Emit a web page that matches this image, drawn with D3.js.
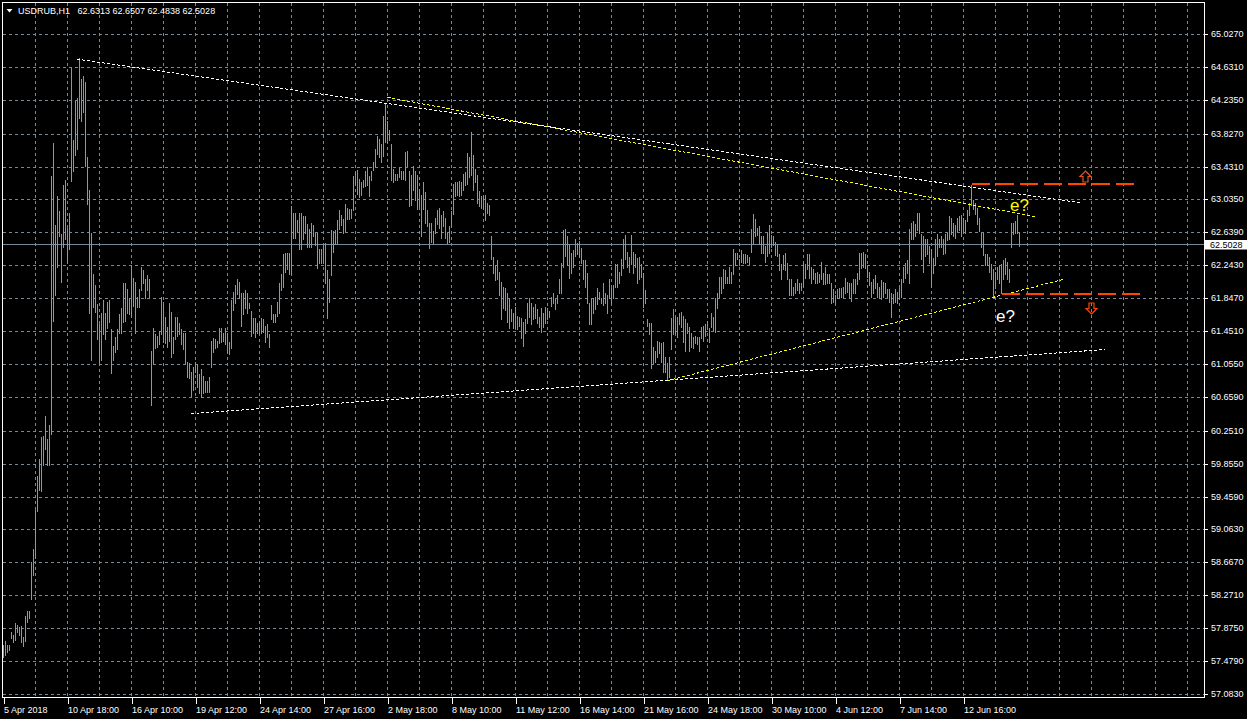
<!DOCTYPE html>
<html><head><meta charset="utf-8">
<script src="https://cdn.jsdelivr.net/npm/d3@7"></script>
<style>html,body{margin:0;padding:0;background:#000;overflow:hidden}svg{display:block}</style>
</head><body>
<svg id="c" width="1247" height="719"></svg>
<script>
const symbolTitle = "USDRUB,H1";
const lastOHLC = ["62.6313", "62.6507", "62.4838", "62.5028"];
const currentPrice = 62.5028;

const highs = [
57.68,57.73,57.68,57.68,57.83,57.80,57.94,57.92,57.90,57.91,
57.78,58.03,58.09,58.09,58.68,58.83,59.30,59.71,59.92,60.18,
60.20,60.43,60.16,60.33,63.32,63.72,62.74,63.08,62.90,62.63,
63.22,63.28,62.70,62.88,64.62,63.76,64.23,64.26,64.74,64.49,
64.53,64.46,63.55,63.15,62.64,62.14,62.01,61.78,61.54,61.68,
61.83,61.68,61.81,61.83,61.48,61.28,61.38,61.48,61.66,61.73,
62.04,62.04,61.96,61.85,62.25,62.10,62.05,61.87,61.96,62.23,
62.19,62.08,62.13,62.09,61.22,61.49,61.42,61.40,61.46,61.87,
61.81,61.63,61.51,61.80,61.69,61.39,61.63,61.63,61.55,61.48,
61.44,61.44,61.09,61.07,60.96,61.03,61.09,61.06,60.94,61.00,
60.92,60.86,60.86,60.91,61.34,61.37,61.36,61.34,61.50,61.49,
61.43,61.50,61.44,61.33,61.83,61.93,62.01,62.09,62.05,61.91,
61.91,61.95,61.92,61.80,61.70,61.61,61.61,61.56,61.58,61.62,
61.60,61.52,61.54,61.42,61.77,61.66,61.66,61.81,62.03,62.15,
62.38,62.40,62.40,62.40,62.96,62.88,62.88,62.79,62.88,62.88,
62.84,62.84,62.75,62.68,62.76,62.74,62.64,62.64,62.45,62.44,
62.49,62.52,62.19,62.08,62.67,62.66,62.67,62.80,62.91,62.86,
62.81,62.99,62.94,62.93,62.93,63.32,63.37,63.40,63.29,63.25,
63.27,63.38,63.43,63.32,63.38,63.49,63.65,63.81,63.77,63.71,
64.05,64.19,63.98,63.88,63.71,63.41,63.35,63.35,63.43,63.38,
63.38,63.61,63.63,63.38,63.34,63.44,63.39,63.34,63.17,63.09,
63.25,63.13,62.92,62.76,62.76,62.66,62.82,62.91,62.94,62.85,
62.90,62.82,62.64,62.72,62.90,63.23,63.25,63.25,63.26,63.25,
63.35,63.37,63.60,63.55,63.85,63.58,63.41,63.33,63.14,63.08,
63.08,63.09,63.00,62.97,62.60,62.35,62.25,62.31,62.17,62.05,
61.99,61.98,61.92,61.84,61.72,61.68,61.75,61.64,61.63,61.61,
61.57,61.60,61.80,61.85,61.80,61.75,61.78,61.72,61.63,61.74,
61.68,61.75,61.73,61.70,61.87,61.91,61.84,61.89,62.09,62.28,
62.67,62.69,62.60,62.50,62.40,62.43,62.56,62.52,62.54,62.46,
62.31,62.31,62.16,61.80,61.85,61.85,61.87,61.97,61.93,61.86,
62.04,61.91,61.89,62.08,61.97,62.01,62.26,62.26,62.17,62.32,
62.56,62.61,62.41,62.35,62.61,62.41,62.39,62.34,62.35,62.26,
62.16,61.95,61.60,61.55,61.55,61.27,61.22,61.34,61.32,61.31,
61.33,61.15,61.07,61.14,61.61,61.72,61.63,61.63,61.68,61.69,
61.64,61.60,61.56,61.51,61.44,61.38,61.40,61.39,61.39,61.51,
61.52,61.54,61.58,61.49,61.67,61.63,61.85,61.92,62.11,62.11,
62.20,62.19,62.11,62.23,62.17,62.44,62.40,62.40,62.32,62.43,
62.38,62.38,62.37,62.35,62.69,62.87,62.81,62.70,62.72,62.60,
62.60,62.48,62.64,62.74,62.61,62.60,62.53,62.51,62.38,62.26,
62.37,62.40,62.28,62.09,62.09,61.99,62.04,62.08,62.04,62.03,
62.28,62.26,62.38,62.39,62.23,62.20,62.16,62.17,62.15,62.29,
62.16,62.23,62.14,62.14,62.04,61.96,61.89,61.96,61.97,61.97,
61.99,62.10,62.05,62.04,62.03,62.09,62.08,62.16,62.40,62.40,
62.41,62.38,62.25,62.17,62.05,62.09,62.13,62.04,61.99,62.07,
62.05,62.04,61.96,61.96,61.92,61.90,61.96,61.93,61.97,62.09,
62.23,62.28,62.31,62.69,62.76,62.78,62.75,62.88,62.88,62.62,
62.60,62.56,62.56,62.48,62.45,62.34,62.56,62.62,62.56,62.60,
62.57,62.63,62.64,62.84,62.82,62.76,62.73,62.82,62.84,62.85,
62.82,62.80,62.91,63.00,63.21,63.04,63.00,62.94,62.82,62.64,
62.64,62.39,62.38,62.35,62.27,62.21,62.17,62.23,62.25,62.26,
62.31,62.34,62.29,62.20,62.76,62.76,62.78,62.85,62.6507
];

const lows = [
57.54,57.56,57.60,57.62,57.76,57.72,57.74,57.83,57.80,57.71,
57.67,57.73,57.96,58.00,58.23,58.52,58.72,59.29,59.55,59.53,
59.85,60.04,59.85,59.85,60.22,61.58,61.89,62.23,62.60,62.05,
62.47,62.57,62.29,62.44,63.26,63.39,63.58,63.65,64.02,63.99,
64.10,63.45,62.99,61.68,61.11,61.75,61.69,61.36,61.07,61.11,
61.42,61.36,61.50,61.57,60.95,61.11,61.21,61.24,61.43,61.44,
61.57,61.58,61.68,61.66,61.63,61.76,61.44,61.75,61.75,61.95,
62.04,61.85,61.95,61.87,60.57,61.07,61.25,61.27,61.30,61.42,
61.32,61.31,61.27,61.34,61.15,61.19,61.36,61.40,61.42,61.30,
61.24,61.07,60.91,60.89,60.68,60.75,60.97,60.79,60.71,60.66,
60.71,60.72,60.72,60.73,61.03,61.21,61.25,61.27,61.31,61.32,
61.34,61.30,61.20,61.18,61.25,61.71,61.80,61.90,61.86,61.52,
61.66,61.74,61.68,61.73,61.40,61.44,61.38,61.44,61.44,61.44,
61.45,61.33,61.38,61.27,61.60,61.57,61.57,61.64,61.68,61.95,
61.99,62.17,62.21,62.15,62.15,62.58,62.58,62.66,62.45,62.45,
62.57,62.64,62.47,62.47,62.47,62.60,62.49,62.22,62.28,62.28,
62.28,62.04,61.62,61.81,62.13,62.41,62.51,62.52,62.68,62.74,
62.64,62.66,62.81,62.81,62.82,62.91,63.21,63.11,63.07,63.09,
63.19,63.20,63.21,63.08,63.27,63.40,63.43,63.59,63.55,63.49,
63.57,63.73,63.73,63.76,63.27,63.25,63.27,63.28,63.31,63.29,
63.29,63.27,63.44,62.96,62.98,63.15,63.04,62.93,62.96,62.60,
62.93,62.76,62.72,62.46,62.53,62.52,62.64,62.75,62.70,62.58,
62.72,62.58,62.52,62.53,62.72,62.87,63.08,63.09,63.08,63.09,
63.16,63.22,63.23,63.31,63.33,63.16,63.25,63.00,62.96,62.94,
62.93,62.79,62.88,62.85,62.33,62.16,62.07,62.08,61.89,61.60,
61.74,61.71,61.57,61.50,61.58,61.50,61.49,61.48,61.52,61.37,
61.28,61.44,61.56,61.63,61.54,61.60,61.62,61.56,61.51,61.45,
61.51,61.56,61.60,61.63,61.76,61.80,61.72,61.80,61.92,61.92,
62.23,62.36,62.25,62.10,62.16,62.23,62.36,62.38,62.35,62.28,
62.09,61.99,61.80,61.54,61.54,61.68,61.72,61.78,61.84,61.79,
61.77,61.80,61.68,61.85,61.80,61.86,61.99,61.99,62.03,62.13,
62.22,62.32,62.23,62.17,62.26,62.16,62.23,62.04,62.08,62.11,
61.75,61.80,61.52,61.42,61.01,61.07,61.08,61.14,61.19,61.08,
60.96,60.97,60.87,60.91,61.24,61.42,61.44,61.39,61.54,61.51,
61.32,61.22,61.44,61.22,61.27,61.25,61.31,61.30,61.22,61.37,
61.34,61.40,61.48,61.32,61.51,61.47,61.45,61.73,61.87,61.92,
61.97,62.04,62.03,62.04,62.03,62.14,62.25,62.32,62.25,62.29,
62.28,62.28,62.29,62.27,62.41,62.51,62.60,62.61,62.51,62.40,
62.40,62.29,62.36,62.40,62.47,62.49,62.37,62.36,62.19,62.09,
62.20,62.19,62.09,61.89,61.89,61.89,61.92,61.95,61.91,61.95,
62.00,62.10,62.20,62.10,62.03,62.09,62.04,62.04,62.05,62.09,
62.02,62.02,62.03,62.03,61.80,61.81,61.78,61.85,61.86,61.87,
61.87,61.91,61.93,61.85,61.82,61.91,61.92,62.02,62.08,62.22,
62.23,62.22,62.11,62.01,61.87,61.92,61.97,61.87,61.86,61.84,
61.87,61.91,61.87,61.81,61.63,61.80,61.81,61.80,61.85,61.87,
62.05,62.10,62.16,62.04,62.57,62.56,62.60,62.67,62.64,62.32,
62.17,62.36,62.38,62.28,61.99,62.16,62.25,62.36,62.47,62.47,
62.39,62.40,62.55,62.56,62.63,62.60,62.58,62.66,62.67,62.60,
62.64,62.64,62.78,62.85,62.97,62.93,62.87,62.75,62.66,62.47,
62.37,62.25,62.25,62.17,62.09,61.87,61.97,62.09,62.03,61.91,
62.09,62.14,62.08,62.05,62.47,62.63,62.64,62.64,62.4838
];

const priceTicks = [65.0270,64.6310,64.2350,63.8270,63.4310,63.0350,62.6390,62.2430,61.8470,61.4510,
  61.0550,60.6590,60.2510,59.8550,59.4590,59.0630,58.6670,58.2710,57.8750,57.4790,57.0830];

const timeLabels = ["5 Apr 2018","10 Apr 18:00","16 Apr 10:00","19 Apr 12:00","24 Apr 14:00","27 Apr 16:00",
  "2 May 18:00","8 May 10:00","11 May 12:00","16 May 14:00","21 May 16:00","24 May 18:00",
  "30 May 10:00","4 Jun 12:00","7 Jun 14:00","12 Jun 16:00"];
const barsPerLabel = 32;
const barsPerGrid = 16;

// trend lines: [barIndex, price]
const upperWhiteLine = [[37, 64.73], [539, 63.00]];
const upperYellowLine = [[192, 64.27], [517, 62.83]];
const lowerWhiteLine = [[94, 60.465], [551, 61.235]];
const lowerYellowLine = [[332, 60.86], [530, 62.08]];
const breakoutUp = [[484, 63.23], [566, 63.23]];
const breakoutDown = [[499, 61.905], [568, 61.905]];
const upArrow = [541, 63.39];
const downArrow = [544, 61.66];
const labelUpper = {text: "e?", at: [503.3, 62.90]};
const labelLower = {text: "e?", at: [496.3, 61.57]};

const FONT = "'Liberation Sans', Arial, sans-serif";
const GRID = "#778899";
const BAR = "#00ff00";

const svg = d3.select("#c");
svg.append("rect").attr("width", 1247).attr("height", 719).attr("fill", "#000");

const x = d3.scaleLinear().domain([0, 600]).range([3.5, 1203.5]);
const y = d3.scaleLinear().domain([57.083, 65.027]).range([694.5, 34.5]);
const py = v => Math.round(y(v) - 0.5) + 0.5;

const L = 2.5, R = 1204.5, T = 2.5, B = 697.5;

// grid
const grid = svg.append("g").attr("stroke", GRID).attr("stroke-width", 1)
  .attr("stroke-dasharray", "3,3").attr("shape-rendering", "crispEdges");
grid.selectAll("line.h").data(priceTicks).join("line").attr("class", "h")
  .attr("x1", L).attr("x2", R).attr("y1", d => py(d)).attr("y2", d => py(d));
grid.selectAll("line.v").data(d3.range(barsPerGrid, 600, barsPerGrid).filter(i => x(i) < R - 1))
  .join("line").attr("class", "v")
  .attr("x1", d => x(d)).attr("x2", d => x(d)).attr("y1", T).attr("y2", B);

// current price line
svg.append("line").attr("x1", L).attr("x2", R).attr("y1", py(currentPrice)).attr("y2", py(currentPrice))
  .attr("stroke", GRID).attr("stroke-width", 1).attr("shape-rendering", "crispEdges");

// bars
const n = Math.min(highs.length, lows.length);
svg.append("g").attr("stroke", BAR).attr("stroke-width", 1).attr("shape-rendering", "crispEdges")
  .selectAll("line").data(d3.range(n)).join("line")
  .attr("x1", i => x(i)).attr("x2", i => x(i))
  .attr("y1", i => Math.round(y(highs[i])))
  .attr("y2", i => Math.round(y(lows[i])) + 1);

// trend lines
function seg(pts, color, dash, width) {
  svg.append("line")
    .attr("x1", x(pts[0][0])).attr("y1", y(pts[0][1]))
    .attr("x2", x(pts[1][0])).attr("y2", y(pts[1][1]))
    .attr("stroke", color).attr("stroke-width", width || 1)
    .attr("stroke-dasharray", dash).attr("shape-rendering", "crispEdges");
}
function hseg(pts, color, dash) {
  const yy = Math.round(y(pts[0][1]));
  svg.append("line")
    .attr("x1", x(pts[0][0])).attr("y1", yy)
    .attr("x2", x(pts[1][0])).attr("y2", yy)
    .attr("stroke", color).attr("stroke-width", 2)
    .attr("stroke-dasharray", dash).attr("shape-rendering", "crispEdges");
}
seg(upperWhiteLine, "#ffffff", "3,2");
seg(lowerWhiteLine, "#ffffff", "3,2");
seg(upperYellowLine, "#ffff00", "3,2");
seg(lowerYellowLine, "#ffff00", "3,2");
hseg(breakoutUp, "#ff4500", "18,6");
hseg(breakoutDown, "#ff4500", "18,6");

// arrows
function arrow(pt, dir, color) {
  const cx = x(pt[0]), cy = Math.round(y(pt[1]));
  const s = dir === "up" ? 1 : -1;
  const p = [[0,0],[5.5,5.5],[2.5,5.5],[2.5,11],[-2.5,11],[-2.5,5.5],[-5.5,5.5]];
  svg.append("path")
    .attr("d", "M" + p.map(q => [cx + q[0], cy + s * q[1]].join(",")).join("L") + "Z")
    .attr("fill", "none").attr("stroke", color).attr("stroke-width", 1.2);
}
arrow(upArrow, "up", "#e0521c");
arrow(downArrow, "down", "#ff4500");

// text labels
svg.append("text").attr("x", x(labelUpper.at[0])).attr("y", y(labelUpper.at[1]))
  .attr("fill", "#ffff00").attr("font-family", FONT).attr("font-size", 17).text(labelUpper.text);
svg.append("text").attr("x", x(labelLower.at[0])).attr("y", y(labelLower.at[1]))
  .attr("fill", "#ffffff").attr("font-family", FONT).attr("font-size", 17).text(labelLower.text);

// frame
svg.append("rect").attr("x", L).attr("y", T).attr("width", R - L).attr("height", B - T)
  .attr("fill", "none").attr("stroke", "#fff").attr("stroke-width", 1).attr("shape-rendering", "crispEdges");

// price axis
const yAxis = d3.axisRight(y).tickValues(priceTicks).tickFormat(d3.format(".4f")).tickSize(3).tickPadding(3);
const ya = svg.append("g").attr("transform", `translate(${R + 0.5},0)`).call(yAxis);
ya.select(".domain").remove();
ya.selectAll(".tick").attr("transform", d => `translate(0,${py(d)})`);
ya.selectAll(".tick line").attr("stroke", "#fff").attr("shape-rendering", "crispEdges");
ya.selectAll(".tick text").attr("fill", "#fff").attr("font-family", FONT).attr("font-size", 9);

// current price label
const cpy = py(currentPrice);
svg.append("rect").attr("x", 1205).attr("y", cpy - 4.5).attr("width", 42).attr("height", 9.5).attr("fill", "#fff");
svg.append("text").attr("x", 1210).attr("y", cpy).attr("dy", "0.35em").attr("fill", "#000")
  .attr("font-family", FONT).attr("font-size", 9).text(d3.format(".4f")(currentPrice));

// time axis
const xAxis = d3.axisBottom(x).tickValues(timeLabels.map((d, i) => i * barsPerLabel))
  .tickFormat((d, i) => timeLabels[i]).tickSize(6).tickPadding(3);
const xa = svg.append("g").attr("transform", `translate(0,${B})`).call(xAxis);
xa.select(".domain").remove();
xa.selectAll(".tick line").attr("stroke", "#fff").attr("shape-rendering", "crispEdges");
xa.selectAll(".tick text").attr("fill", "#fff").attr("font-family", FONT).attr("font-size", 9)
  .attr("text-anchor", "start");

// title
svg.append("path").attr("d", "M6.5,9L12.5,9L9.5,12.5Z").attr("fill", "#fff");
svg.append("text").attr("x", 18).attr("y", 14).attr("fill", "#fff").attr("font-family", FONT)
  .attr("font-size", 9).text(symbolTitle);
svg.append("text").attr("x", 77.5).attr("y", 14).attr("fill", "#fff").attr("font-family", FONT)
  .attr("font-size", 9).text(lastOHLC.join(" "));
</script>
</body></html>
